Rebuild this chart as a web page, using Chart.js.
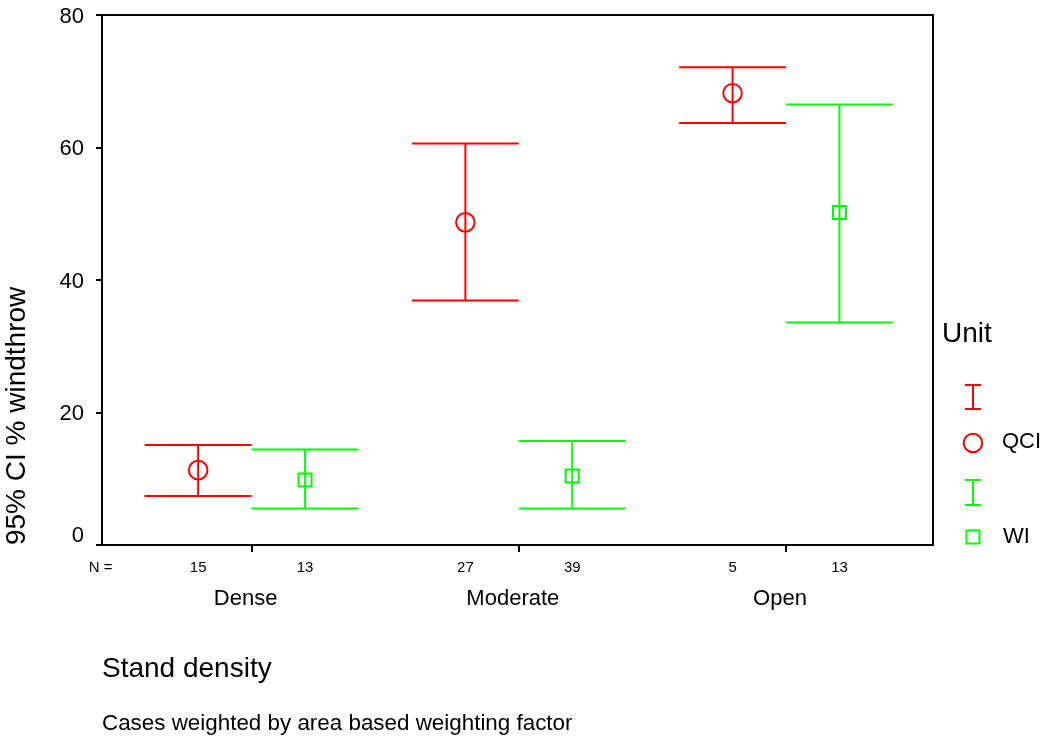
<!DOCTYPE html>
<html><head><meta charset="utf-8">
<script src="https://cdn.jsdelivr.net/npm/chart.js@4.4.1/dist/chart.umd.min.js"></script>
<style>html,body{margin:0;padding:0;background:#fff;} #wrap{width:1045px;height:740px;}</style>
</head><body><div id="wrap"><canvas id="c" width="1045" height="740"></canvas></div>
<script>
// ---- data ----
const categories = ['Dense', 'Moderate', 'Open'];
const units = ['QCI', 'WI'];
const qciN = [15, 27, 5];
const wiN = [13, 39, 13];
const qciMean = [11.3, 48.7, 68.2];
const qciLower = [7.4, 36.9, 63.7];
const qciUpper = [15.1, 60.6, 72.1];
const wiMean = [9.8, 10.4, 50.2];
const wiLower = [5.5, 5.5, 33.6];
const wiUpper = [14.4, 15.7, 66.5];
const yTicks = [0, 20, 40, 60, 80];
const nLabel = 'N =';

// ---- styling / layout constants ----
const RED = '#ff0000', GREEN = '#00ff00';
const OFF = 0.2;              // offset of each unit from group centre
const CAT_SHIFT = -0.0225;    // category labels sit slightly left of group centre
const FONT = "'Liberation Sans', Arial, sans-serif";
Chart.defaults.font.family = FONT;
Chart.defaults.color = '#000';

function whiskers(lower, upper, side) {
  const pts = [];
  categories.forEach((c, i) => {
    const g = i + 1, xm = g + side * OFF, xe = g + side * 2 * OFF;
    const a = Math.min(g, xe), b = Math.max(g, xe);
    pts.push({x: xm, y: lower[i]}, {x: xm, y: upper[i]}, {x: xm, y: null});
    pts.push({x: a, y: upper[i]}, {x: b, y: upper[i]}, {x: g, y: null});
    pts.push({x: a, y: lower[i]}, {x: b, y: lower[i]}, {x: g, y: null});
  });
  return pts;
}
function means(vals, side) {
  return vals.map((v, i) => ({x: i + 1 + side * OFF, y: v}));
}
const xTickList = [{value: 0.435, lab: nLabel, kind: 'n'}];
categories.forEach((c, i) => {
  xTickList.push({value: i + 1 - OFF, lab: String(qciN[i]), kind: 'n'});
  xTickList.push({value: i + 1 + CAT_SHIFT, lab: ['', c], kind: 'cat'});
  xTickList.push({value: i + 1, lab: '', kind: 'mark'});
  xTickList.push({value: i + 1 + OFF, lab: String(wiN[i]), kind: 'n'});
});

const legendPlugin = {
  id: 'unitLegend',
  afterDraw(chart) {
    const ctx = chart.ctx;
    ctx.save();
    ctx.fillStyle = '#000';
    ctx.textBaseline = 'middle';
    ctx.textAlign = 'left';
    ctx.font = "28px " + FONT;
    ctx.fillText('Unit', 942, 334);
    ctx.lineWidth = 2;
    function ibeam(color, y1, y2) {
      ctx.strokeStyle = color;
      ctx.beginPath();
      ctx.moveTo(973, y1); ctx.lineTo(973, y2);
      ctx.moveTo(965, y1); ctx.lineTo(981, y1);
      ctx.moveTo(965, y2); ctx.lineTo(981, y2);
      ctx.stroke();
    }
    ibeam(RED, 385, 409);
    ctx.strokeStyle = RED;
    ctx.beginPath(); ctx.arc(973, 443, 9.3, 0, Math.PI * 2); ctx.stroke();
    ibeam(GREEN, 480, 505);
    ctx.strokeStyle = GREEN;
    ctx.strokeRect(966.5, 530.5, 13, 13);
    ctx.font = "22px " + FONT;
    ctx.fillText(units[0], 1002, 442);
    ctx.fillText(units[1], 1003, 537);
    ctx.restore();
  }
};

new Chart(document.getElementById('c'), {
  type: 'line',
  data: {
    datasets: [
      {label: units[0] + ' CI', data: whiskers(qciLower, qciUpper, -1), borderColor: RED, borderWidth: 2,
       pointRadius: 0, spanGaps: false, tension: 0, fill: false},
      {label: units[1] + ' CI', data: whiskers(wiLower, wiUpper, 1), borderColor: GREEN, borderWidth: 2,
       pointRadius: 0, spanGaps: false, tension: 0, fill: false},
      {label: units[0], data: means(qciMean, -1), showLine: false, pointStyle: 'circle', pointRadius: 9.3,
       pointBorderWidth: 2, pointBorderColor: RED, pointBackgroundColor: 'rgba(0,0,0,0)', borderColor: RED},
      {label: units[1], data: means(wiMean, 1), showLine: false, pointStyle: 'rect', pointRadius: 9.2,
       pointBorderWidth: 2, pointBorderColor: GREEN, pointBackgroundColor: 'rgba(0,0,0,0)', borderColor: GREEN}
    ]
  },
  options: {
    responsive: false, animation: false, events: [],
    layout: {padding: {top: 15, right: 112, left: 0, bottom: 0}},
    plugins: {
      legend: {display: false},
      tooltip: {enabled: false},
      subtitle: {display: true, text: 'Cases weighted by area based weighting factor', position: 'bottom',
        align: 'start', fullSize: false, color: '#000', font: {size: 22.4, weight: 'normal'},
        padding: {top: 0, bottom: 3}}
    },
    scales: {
      x: {
        type: 'linear', position: 'bottom', min: 0.44, max: 3.55,
        afterBuildTicks: (s) => { s.ticks = xTickList.map(t => Object.assign({}, t)); },
        afterFit: (s) => { s.height = 165.1; },
        grid: {display: true, drawOnChartArea: false, drawTicks: true, tickLength: 7, lineWidth: 2,
          color: (c) => (c.tick && c.tick.kind === 'mark') ? '#000' : 'rgba(0,0,0,0)'},
        border: {display: true, color: '#000', width: 2},
        ticks: {autoSkip: false, maxRotation: 0, minRotation: 0, padding: 7, color: '#000',
          font: (c) => (c.tick && c.tick.kind === 'cat') ? {size: 22, lineHeight: 1.2} : {size: 15, lineHeight: 1.2},
          callback: (v, i, ticks) => ticks[i].lab},
        title: {display: true, text: 'Stand density', align: 'start', color: '#000', font: {size: 28},
          padding: {top: 0, bottom: 24.3}}
      },
      y: {
        type: 'linear', position: 'left', min: 0, max: 80,
        afterBuildTicks: (s) => { s.ticks = yTicks.map(v => ({value: v})); },
        afterFit: (s) => { s.width = 102; s.paddingTop = 0; s.paddingBottom = 0; },
        grid: {display: true, drawOnChartArea: false, drawTicks: true, tickLength: 6, lineWidth: 2, color: '#000'},
        border: {display: true, color: '#000', width: 2},
        ticks: {padding: 12, color: '#000', labelOffset: 1.5,
          font: (c) => ({size: 22, lineHeight: (c.tick && c.tick.value === 0) ? 1.0 : 1.2}),
          callback: (v) => v === 0 ? [String(v), ''] : String(v)},
        title: {display: true, text: '95% CI % windthrow', align: 'start', color: '#000', font: {size: 28},
          padding: {top: 0, bottom: 0}}
      },
      xTop: {
        type: 'linear', position: 'top', display: true,
        grid: {display: false, drawTicks: false}, ticks: {display: false},
        border: {display: true, color: '#000', width: 2},
        afterFit: (s) => { s.height = 0; }
      },
      yRight: {
        type: 'linear', position: 'right', display: true,
        grid: {display: false, drawTicks: false}, ticks: {display: false},
        border: {display: true, color: '#000', width: 2},
        afterFit: (s) => { s.width = 0; s.paddingTop = 0; s.paddingBottom = 0; }
      }
    }
  },
  plugins: [legendPlugin]
});
</script>
</body></html>
